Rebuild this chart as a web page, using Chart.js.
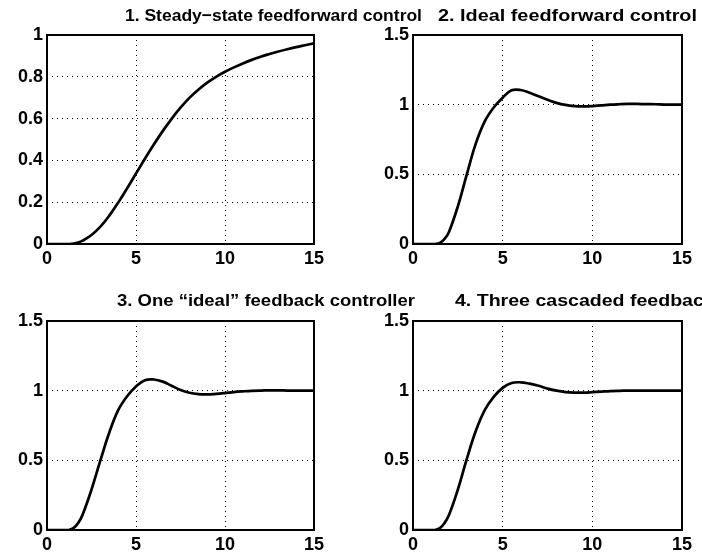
<!DOCTYPE html>
<html>
<head>
<meta charset="utf-8">
<script src="https://cdn.jsdelivr.net/npm/chart.js@4"></script>
<style>
  body { margin: 0; background: #fff; width: 702px; height: 556px; overflow: hidden; position: relative; }
  canvas { position: absolute; }
  .title { position: absolute; font: bold 17px "Liberation Sans", Arial, sans-serif; line-height: 17px; white-space: nowrap; color: #000; transform-origin: 0 0; }
</style>
</head>
<body>
<canvas id="c1" width="351" height="278" style="left:0;top:0"></canvas>
<canvas id="c2" width="351" height="278" style="left:351px;top:0"></canvas>
<canvas id="c3" width="351" height="278" style="left:0;top:278px"></canvas>
<canvas id="c4" width="351" height="278" style="left:351px;top:278px"></canvas>
<div class="title" id="t1" style="left:125px;top:7px">1. Steady−state feedforward control</div>
<div class="title" id="t2" style="left:438px;top:7px">2. Ideal feedforward control</div>
<div class="title" id="t3" style="left:117px;top:292px">3. One “ideal” feedback controller</div>
<div class="title" id="t4" style="left:455px;top:292px">4. Three cascaded feedback controllers</div>
<script>
// time axis (s)
const time = [0, 1, 1.25, 1.5, 1.75, 2, 2.5, 3, 3.5, 4, 4.5, 5, 5.5, 6, 6.5, 7, 7.5, 8, 8.5, 9, 9.5, 10, 10.5, 11, 11.5, 12, 12.5, 13, 13.5, 14, 14.5, 15];

// step responses
const steadyState = [0, 0, 0, 0.002, 0.007, 0.016, 0.043, 0.083, 0.136, 0.198, 0.266, 0.337, 0.408, 0.476, 0.540, 0.599, 0.652, 0.699, 0.738, 0.772, 0.800, 0.824, 0.845, 0.864, 0.881, 0.896, 0.909, 0.921, 0.932, 0.942, 0.951, 0.96];
const idealFF = [0, 0, 0, 0.008, 0.035, 0.085, 0.27, 0.50, 0.72, 0.88, 0.98, 1.05, 1.103, 1.105, 1.085, 1.06, 1.035, 1.013, 0.998, 0.99, 0.988, 0.99, 0.995, 1.0, 1.003, 1.005, 1.005, 1.004, 1.003, 1.001, 1.0, 1.0];
const oneFeedback = [0, 0, 0.001, 0.015, 0.05, 0.11, 0.29, 0.50, 0.70, 0.86, 0.96, 1.03, 1.075, 1.08, 1.065, 1.035, 1.005, 0.985, 0.975, 0.973, 0.977, 0.983, 0.99, 0.995, 0.999, 1.001, 1.002, 1.002, 1.001, 1.0, 1.0, 1.0];
const threeFeedback = [0, 0, 0.001, 0.013, 0.048, 0.105, 0.29, 0.51, 0.71, 0.86, 0.955, 1.02, 1.055, 1.06, 1.05, 1.035, 1.015, 1.0, 0.99, 0.986, 0.986, 0.989, 0.993, 0.997, 0.999, 1.0, 1.0, 1.0, 1.0, 1.0, 1.0, 1.0];

// tick values
const xTicks = [0, 5, 10, 15];
const yTicksUnit = [0, 0.2, 0.4, 0.6, 0.8, 1];
const yTicksWide = [0, 0.5, 1, 1.5];

const FONT = { family: '"Liberation Sans", Arial, sans-serif', size: 18, weight: 'bold' };

// stretch titles to the widths they take in the figure (t4 runs off the edge)
const titleWidths = { t1: 297, t2: 259, t3: 298 };
for (const id of ['t1', 't2', 't3', 't4']) {
  const el = document.getElementById(id);
  const w = el.getBoundingClientRect().width;
  const k = titleWidths[id] ? titleWidths[id] / w : 1.15;
  el.style.transform = `scaleX(${k})`;
}

// MATLAB style closed box around the axes
const boxPlugin = {
  id: 'box',
  afterDraw(chart) {
    const a = chart.chartArea;
    const ctx = chart.ctx;
    ctx.save();
    ctx.lineWidth = 2;
    ctx.strokeStyle = '#000';
    ctx.strokeRect(a.left, a.top, a.right - a.left, a.bottom - a.top);
    ctx.restore();
  }
};

function makeChart(id, values, yTicks, yMax, yWidth, top, right, xHeight) {
  return new Chart(document.getElementById(id), {
    type: 'line',
    plugins: [boxPlugin],
    data: {
      datasets: [{
        data: time.map((t, i) => ({ x: t, y: values[i] })),
        borderColor: '#000',
        borderWidth: 2.7,
        pointRadius: 0,
        tension: 0.4,
        fill: false
      }]
    },
    options: {
      responsive: false,
      animation: false,
      layout: { padding: { top: top, right: right, left: 0, bottom: 0 } },
      plugins: { legend: { display: false }, tooltip: { enabled: false } },
      scales: {
        x: {
          type: 'linear',
          min: 0,
          max: 15,
          afterBuildTicks: s => { s.ticks = xTicks.map(v => ({ value: v })); },
          afterFit: s => { s.height = xHeight; },
          grid: { color: '#000', lineWidth: 1, drawTicks: false },
          border: { display: false, dash: [1, 4] },
          ticks: { color: '#000', font: FONT, padding: 4, maxRotation: 0, autoSkip: false, callback: v => String(v) }
        },
        y: {
          type: 'linear',
          min: 0,
          max: yMax,
          afterBuildTicks: s => { s.ticks = yTicks.map(v => ({ value: v })); },
          afterFit: s => { s.width = yWidth; },
          grid: { color: '#000', lineWidth: 1, drawTicks: false },
          border: { display: false, dash: [1, 4] },
          ticks: { color: '#000', font: FONT, padding: 4, autoSkip: false, callback: v => String(v) }
        }
      }
    }
  });
}

makeChart('c1', steadyState, yTicksUnit, 1, 47, 35, 37, 34);
makeChart('c2', idealFF, yTicksWide, 1.5, 62, 35, 20, 34);
makeChart('c3', oneFeedback, yTicksWide, 1.5, 47, 43, 37, 26);
makeChart('c4', threeFeedback, yTicksWide, 1.5, 62, 43, 20, 26);
</script>
</body>
</html>
